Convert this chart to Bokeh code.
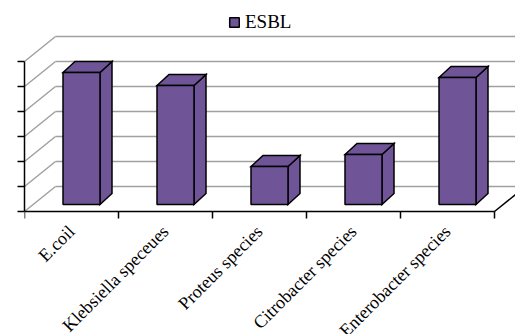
import math
from bokeh.plotting import figure
from bokeh.models import Range1d, LinearAxis, FixedTicker, Legend, LegendItem
from bokeh.embed import file_html
from bokeh.resources import INLINE

# ---- data ----
categories = ["E.coil", "Klebsiella speceues", "Proteus species", "Citrobacter species", "Enterobacter species"]
esbl = [26.4, 23.8, 7.6, 10.0, 25.4]
y_ticks = [0, 5, 10, 15, 20, 25, 30]

# ---- styling / geometry constants ----
PX_X = 94.0   # px per category
PX_Y = 5.0    # px per value unit
FRAME_W, FRAME_H = 491, 334
FLOOR_PX = 211                                # pixel row of the front floor edge
WALL_DX, WALL_DY = 31 / PX_X, 25 / PX_Y      # depth of the floor / back wall
BAR_FX, BAR_FY = 10 / PX_X, 7 / PX_Y         # bar front offset into depth
BAR_DX, BAR_DY = 12 / PX_X, 11 / PX_Y        # bar depth
BAR_W = 37 / PX_X
LABEL_SHIFT = 0 / PX_X
PURPLE = "#6F5597"
GRID = "#A0A0A0"
FONT = "Liberation Serif"

y_start = -(FRAME_H - FLOOR_PX) / PX_Y
y_end = FLOOR_PX / PX_Y
p = figure(width=515, height=334, output_backend="svg", toolbar_location=None,
           x_range=Range1d(0, FRAME_W / PX_X), y_range=Range1d(y_start, y_end),
           x_axis_type=None, y_axis_type=None,
           min_border_left=24, min_border_right=0, min_border_top=0, min_border_bottom=0)
p.outline_line_color = None
p.xgrid.visible = False
p.ygrid.visible = False
p.background_fill_color = "white"

# ---- walls: grid lines on back wall and left side wall ----
x_end = FRAME_W / PX_X + 0.5
p.segment(x0=[WALL_DX] * len(y_ticks), y0=[t + WALL_DY for t in y_ticks],
          x1=[x_end] * len(y_ticks), y1=[t + WALL_DY for t in y_ticks],
          line_color=GRID, line_width=1.5)
p.segment(x0=[0] * len(y_ticks), y0=y_ticks,
          x1=[WALL_DX] * len(y_ticks), y1=[t + WALL_DY for t in y_ticks],
          line_color=GRID, line_width=1.5)
n = len(categories)
p.segment(x0=[n], y0=[0], x1=[n + WALL_DX * 2], y1=[WALL_DY * 2], line_color="black", line_width=1.5)

# ---- 3D bars ----
lefts, rights, bottoms, tops = [], [], [], []
side_xs, side_ys, top_xs, top_ys = [], [], [], []
for i, v in enumerate(esbl):
    xl = i + 0.5 - BAR_W / 2 + BAR_FX
    xr = xl + BAR_W
    yb = BAR_FY
    yt = BAR_FY + v
    lefts.append(xl); rights.append(xr); bottoms.append(yb); tops.append(yt)
    side_xs.append([xr, xr + BAR_DX, xr + BAR_DX, xr])
    side_ys.append([yb, yb + BAR_DY, yt + BAR_DY, yt])
    top_xs.append([xl, xl + BAR_DX, xr + BAR_DX, xr])
    top_ys.append([yt, yt + BAR_DY, yt + BAR_DY, yt])

p.patches(side_xs, side_ys, fill_color=PURPLE, line_color="black", line_width=1.5, line_join="miter")
p.patches(top_xs, top_ys, fill_color=PURPLE, line_color="black", line_width=1.5, line_join="miter")
front = p.quad(left=lefts, right=rights, bottom=bottoms, top=tops,
               fill_color=PURPLE, line_color="black", line_width=1.5)

# ---- axes ----
yax = LinearAxis(ticker=FixedTicker(ticks=[], minor_ticks=y_ticks), bounds=(0, max(y_ticks)),
                 major_tick_out=0, major_tick_in=0, minor_tick_out=7, minor_tick_in=0,
                 major_label_standoff=0,
                 axis_line_color="black", axis_line_width=1.5,
                 minor_tick_line_color="black", minor_tick_line_width=1.5)
p.add_layout(yax, "left")

label_pos = [i + 0.5 + LABEL_SHIFT for i in range(n)]
xax = LinearAxis(fixed_location=0,
                 ticker=FixedTicker(ticks=label_pos, minor_ticks=list(range(n + 1))),
                 bounds=(0, n),
                 major_tick_out=0, major_tick_in=0, minor_tick_out=7, minor_tick_in=0,
                 major_label_overrides={c: lab for c, lab in zip(label_pos, categories)},
                 major_label_orientation=math.pi / 4,
                 major_label_text_font=FONT, major_label_text_font_size="18px",
                 major_label_text_color="black", major_label_standoff=10,
                 axis_line_color="black", axis_line_width=1.5,
                 minor_tick_line_color="black", minor_tick_line_width=1.5)
p.add_layout(xax, "below")

# ---- legend ----
legend = Legend(items=[LegendItem(label="ESBL", renderers=[front])],
                location=(204, FRAME_H - 33), orientation="horizontal",
                glyph_width=12, glyph_height=12, label_standoff=5,
                padding=0, margin=0, spacing=0,
                border_line_color=None, background_fill_alpha=0,
                label_text_font=FONT, label_text_font_size="19px", label_text_color="black")
p.add_layout(legend, "center")

open("out.html", "w").write(file_html(p, INLINE))
